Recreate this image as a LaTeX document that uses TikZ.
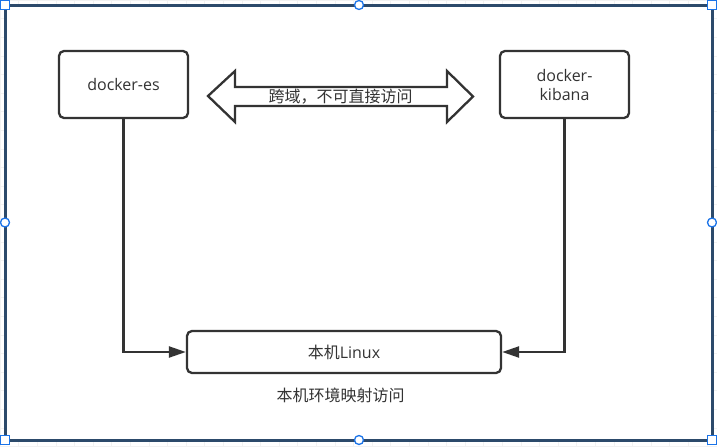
\documentclass[tikz,border=0pt]{standalone}
\usepackage{fontspec}
\setmainfont{Open Sans}
\newfontfamily\cjk{Noto Sans CJK SC}
\usetikzlibrary{positioning,arrows.meta}
\definecolor{ink}{HTML}{333333}
\definecolor{framec}{HTML}{2C4A6B}
\definecolor{handlec}{HTML}{1A73E8}
\begin{document}
\begin{tikzpicture}[x=1pt,y=-1pt,
   box/.style={draw=ink,line width=2.3pt,rounded corners=5pt,fill=white,text=ink,
   font=\fontsize{16}{19}\selectfont,align=center,inner sep=0pt},
   link/.style={draw=ink,line width=2.3pt,-{Triangle[length=17pt,width=11pt]}},
   lbl/.style={text=ink,font=\fontsize{16}{19}\selectfont\cjk,inner sep=0pt},
   handle/.style={draw=handlec,fill=white,line width=1.3pt}]

 \useasboundingbox (0,0) rectangle (717,447);
 \draw[gray!10,step=18.6pt] (0,0) grid (717,447);
 \fill[white] (5,5) rectangle (712,440);

 \node[box,minimum width=129pt,minimum height=67pt] (es) at (123.5,84.5) {docker-es};
 \node[box,minimum width=129pt,minimum height=67pt] (kibana) at (564.5,84.5) {docker-\\kibana};
 \node[box,minimum width=314pt,minimum height=42pt] (linux) at (344,352) {{\cjk 本机}Linux};

 % cross-domain double arrow
 \draw[ink,line width=2.3pt,fill=white] (208,96) -- (235,71) -- (235,87) -- (447,87) -- (447,71)
   -- (473,96.5) -- (447,122) -- (447,106) -- (235,106) -- (235,122) -- cycle;
 \node[lbl] (cross) at (340.5,97) {跨域，不可直接访问};

 \draw[link] (es.south) |- (linux.west);
 \draw[link] (kibana.south) |- (linux.east);
 \node[lbl] (note) at (340.5,395) {本机环境映射访问};

 % selection frame
 \draw[framec,line width=3pt] (5,5) rectangle (712,440);
 \foreach \x/\y in {5/5,712/5,5/440,712/440}
 {\draw[handle] (\x-4.5,\y-4.5) rectangle (\x+4.5,\y+4.5);}
 \foreach \x/\y in {359/5,5/222.5,712/222.5,359/440}
 {\draw[handle] (\x,\y) circle (4.5);}

\end{tikzpicture}
\end{document}
